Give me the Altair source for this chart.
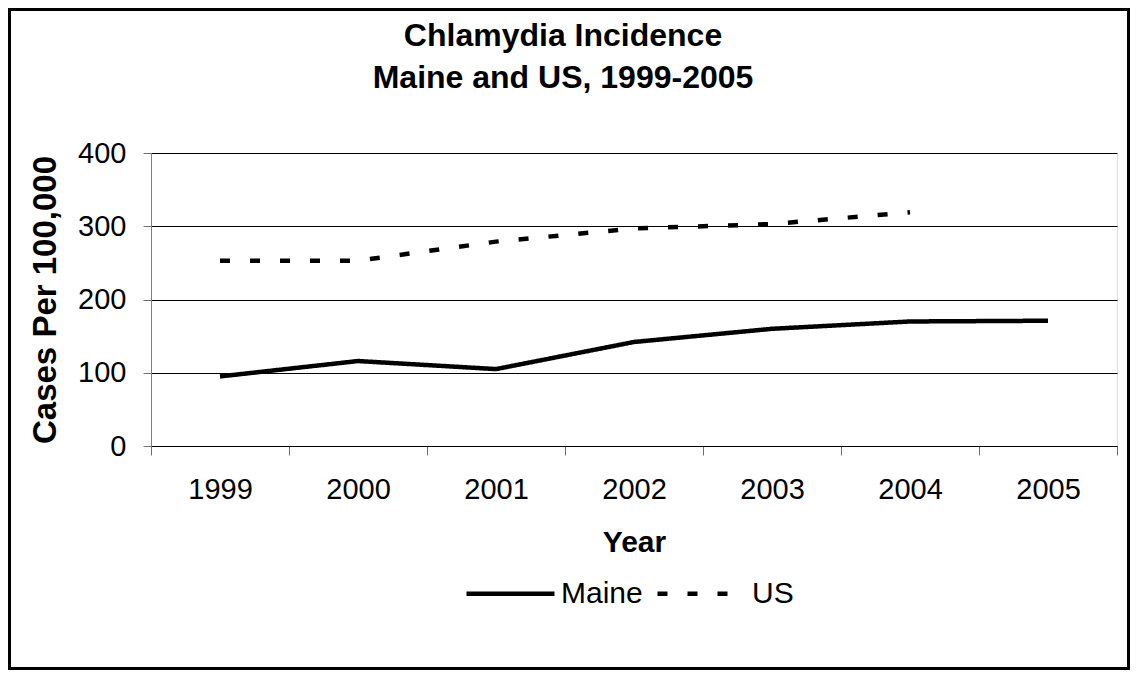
import altair as alt
import pandas as pd

years = ["1999", "2000", "2001", "2002", "2003", "2004", "2005"]
maine = [95, 116, 105, 142, 160, 170, 171]
us = [253, 253, 279, 297, 303, 319, None]
series_names = ["Maine", "US"]
y_ticks = [0, 100, 200, 300, 400]
title_lines = ["Chlamydia Incidence", "Maine and US, 1999-2005"]

rows = []
for y, v in zip(years, maine):
    rows.append({"Year": y, "Cases": v, "Series": "Maine"})
for y, v in zip(years, us):
    if v is not None:
        rows.append({"Year": y, "Cases": v, "Series": "US"})
df = pd.DataFrame(rows)

FONT = "Liberation Sans"
W, H = 966, 293
PL, PT = 143, 145
TOTAL_W, TOTAL_H = 1122, 662

lines = alt.Chart(df).mark_line(strokeWidth=4.5, strokeCap="butt", color="black").encode(
    x=alt.X("Year:O", bandPosition=0.5, sort=years,
            scale=alt.Scale(type="band", paddingInner=0, paddingOuter=0),
            axis=alt.Axis(title="Year", labelAngle=0, tickBand="extent", tickSize=9,
                          tickColor="#707070", domainColor="black", grid=False,
                          labelFont=FONT, labelFontSize=29, labelColor="black",
                          labelBaseline="alphabetic", labelPadding=43,
                          titleFont=FONT, titleFontSize=30, titleFontWeight="bold", titleColor="black",
                          titleBaseline="alphabetic", titleAlign="center", titleX=W / 2, titleY=105)),
    y=alt.Y("Cases:Q", scale=alt.Scale(domain=[0, 400], nice=False),
            axis=alt.Axis(values=y_ticks, title="Cases Per 100,000", grid=True, gridColor="black",
                          gridWidth=1, tickSize=8, tickColor="#707070", domainColor="#808080",
                          labelFont=FONT, labelFontSize=29, labelColor="black", labelPadding=17,
                          titleFont=FONT, titleFontSize=33, titleFontWeight="bold", titleColor="black",
                          titleAngle=270, titleBaseline="alphabetic", titleAlign="center",
                          titleX=-96, titleY=H / 2)),
    strokeDash=alt.StrokeDash("Series:N",
                              scale=alt.Scale(domain=series_names, range=[[1, 0], [10, 20]]),
                              legend=alt.Legend(title=None, orient="none", legendX=313, legendY=394,
                                                direction="horizontal", symbolType="stroke",
                                                symbolSize=7744, symbolStrokeWidth=4.5,
                                                symbolStrokeColor="black", labelFont=FONT,
                                                labelFontSize=30, labelColor="black", labelOffset=4,
                                                columnPadding=5, padding=0)),
)

title = alt.Chart(pd.DataFrame({"a": [0]})).mark_text(
    text=title_lines, font=FONT, fontSize=32, fontWeight="bold", color="black",
    align="center", baseline="alphabetic", lineHeight=42
).encode(x=alt.value(412), y=alt.value(-107))

border = alt.Chart(pd.DataFrame({"a": [0]})).mark_rect(
    fill="transparent", stroke="black", strokeWidth=3
).encode(
    x=alt.value(-PL + 1.5), x2=alt.value(TOTAL_W - PL - 1.5),
    y=alt.value(-PT + 1.5), y2=alt.value(TOTAL_H - PT - 1.5)
)

chart = alt.layer(border, title, lines).properties(
    width=W, height=H,
    autosize=alt.AutoSizeParams(type="none"),
    padding={"left": PL, "top": PT, "right": TOTAL_W - PL - W, "bottom": TOTAL_H - PT - H},
).configure_view(stroke=None).configure(background="white")

chart.save("out.html", embed_options={"renderer": "svg", "actions": False})
